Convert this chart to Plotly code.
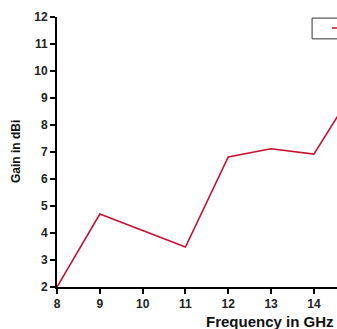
import plotly.graph_objects as go

frequency = [8, 9, 11, 12, 13, 14, 15]
gain = [2.0, 4.7, 3.48, 6.82, 7.12, 6.92, 9.45]
x_ticks = [8, 9, 10, 11, 12, 13, 14]
y_ticks = [2, 3, 4, 5, 6, 7, 8, 9, 10, 11, 12]

FONT = "Arial, Liberation Sans, sans-serif"

fig = go.Figure()
fig.add_trace(go.Scatter(
    x=frequency, y=gain, mode="lines",
    line=dict(color="#C8102E", width=1.6),
    showlegend=False, name="Gain",
))

fig.update_layout(
    width=337, height=329,
    margin=dict(l=57, r=0, t=17, b=42),
    paper_bgcolor="white", plot_bgcolor="white",
    font=dict(family=FONT, color="#222222"),
)
fig.update_xaxes(
    range=[8, 14.54], tickvals=x_ticks, showgrid=False, zeroline=False,
    showline=True, linecolor="black", linewidth=2,
    ticks="outside", ticklen=5, tickwidth=1.5, tickcolor="black",
    tickfont=dict(size=12, family=FONT, weight="bold", color="#222222"),
)
fig.update_yaxes(
    range=[2, 12], tickvals=y_ticks, showgrid=False, zeroline=False,
    showline=True, linecolor="black", linewidth=2,
    ticks="outside", ticklen=5, tickwidth=1.5, tickcolor="black",
    tickfont=dict(size=12, family=FONT, weight="bold", color="#222222"),
)
fig.add_annotation(
    text="Frequency in GHz", xref="x", yref="paper", x=12.97, y=-0.126,
    showarrow=False, yanchor="middle", xanchor="center",
    font=dict(size=15, family=FONT, weight="bold", color="#111111"),
)
fig.add_annotation(
    text="Gain in dBi", xref="paper", yref="paper", x=-0.146, y=0.5,
    textangle=-90, showarrow=False, xanchor="center", yanchor="middle",
    font=dict(size=12, family=FONT, weight="bold", color="#111111"),
)
# legend box (cut off at the right edge)
fig.add_shape(type="rect", xref="paper", yref="paper",
              x0=0.911, x1=1.3, y0=0.919, y1=0.996,
              line=dict(color="#333333", width=1), fillcolor="white")
fig.add_shape(type="line", xref="paper", yref="paper",
              x0=0.982, x1=1.1, y0=0.959, y1=0.959,
              line=dict(color="#C8102E", width=1.6))

fig.write_html(
    "out.html",
    config={"displayModeBar": False},
    post_script="document.body.style.margin='0';document.body.style.overflow='hidden';",
)
